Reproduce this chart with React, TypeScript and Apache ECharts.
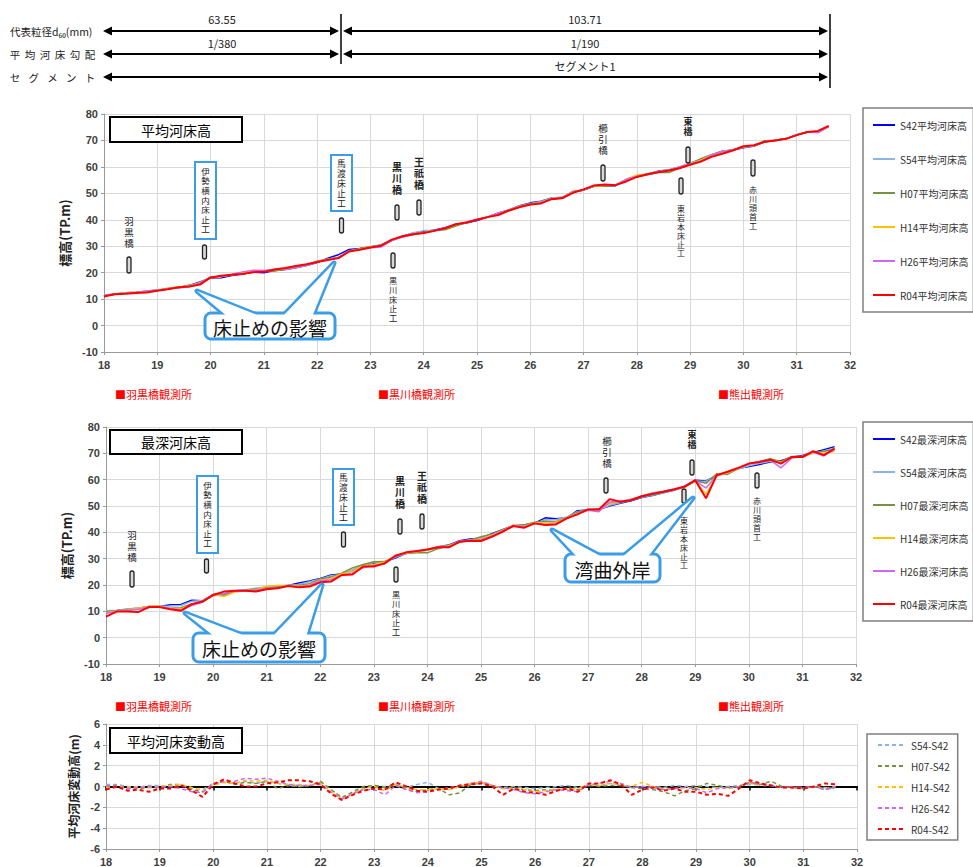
import React, { useEffect, useRef } from "react";
import * as echarts from "echarts";

// ---------- DATA ----------
const KM = [18.0,18.2,18.4,18.6,18.8,19.0,19.2,19.4,19.6,19.8,20.0,20.2,20.4,20.6,20.8,21.0,21.2,21.4,21.6,21.8,22.0,22.2,22.4,22.6,22.8,23.0,23.2,23.4,23.6,23.8,24.0,24.2,24.4,24.6,24.8,25.0,25.2,25.4,25.6,25.8,26.0,26.2,26.4,26.6,26.8,27.0,27.2,27.4,27.6,27.8,28.0,28.2,28.4,28.6,28.8,29.0,29.2,29.4,29.6,29.8,30.0,30.2,30.4,30.6,30.8,31.0,31.2,31.4,31.6];

// 平均河床高
const MEAN_S42 = [11.3,11.8,12.4,12.6,13.0,13.4,13.9,14.4,15.2,16.5,18.0,18.1,18.9,19.5,20.2,20.0,20.8,21.2,21.9,22.7,23.8,25.5,26.8,28.8,29.1,29.7,30.5,32.1,33.8,34.9,35.5,36.1,37.0,38.2,38.8,39.7,41.0,42.6,43.7,45.3,46.4,47.0,48.2,48.4,50.7,51.2,52.7,52.7,52.9,55.3,56.5,57.3,58.4,58.8,60.0,61.3,62.8,64.5,65.9,66.4,67.2,67.9,69.4,70.1,70.7,72.2,73.2,73.3,75.3];
const MEAN_S54 = [11.5,12.0,12.4,12.5,13.1,13.5,13.9,14.5,15.0,16.2,18.3,18.5,19.2,20.0,20.5,20.5,21.1,21.3,21.9,22.8,24.2,25.1,25.8,28.2,28.9,29.8,30.5,32.3,33.7,35.1,35.9,35.9,36.7,38.2,39.0,40.0,41.1,42.5,43.7,45.2,46.2,46.9,48.2,48.5,50.6,51.3,52.8,53.0,53.0,55.2,56.5,57.3,58.3,58.9,60.0,61.4,62.8,64.4,65.9,66.5,67.4,68.1,69.5,70.0,70.7,72.0,73.2,73.2,75.1];
const MEAN_H07 = [11.3,11.9,12.2,12.4,12.9,13.3,14.1,14.6,14.9,16.0,18.2,18.6,19.1,19.9,20.5,20.5,20.6,21.3,21.9,22.8,24.3,25.2,25.7,28.3,29.1,29.8,30.4,32.2,33.5,34.4,35.2,35.9,36.2,37.6,39.0,40.1,41.1,42.4,43.6,45.0,46.0,46.7,47.8,48.3,50.4,51.3,52.7,52.8,53.0,55.2,56.3,57.0,57.9,57.9,59.6,61.1,63.1,64.6,65.8,66.4,67.6,68.1,69.9,70.1,70.6,72.0,73.2,73.0,75.2];
const MEAN_H14 = [11.2,11.8,12.3,12.6,12.9,13.4,14.0,14.6,15.1,16.1,18.1,18.5,19.2,20.1,20.7,20.6,21.1,21.4,22.1,22.8,24.1,25.0,25.6,28.1,28.9,29.7,30.1,32.3,33.7,34.6,35.2,35.9,36.7,38.2,39.1,40.1,41.1,42.4,43.5,45.0,45.9,46.6,48.0,48.1,50.5,51.4,52.8,53.0,53.1,55.3,56.9,57.3,58.2,58.6,59.9,61.2,62.5,64.4,65.7,66.4,67.5,68.0,69.5,70.0,70.6,72.1,73.2,73.1,75.3];
const MEAN_H26 = [11.4,11.8,12.2,12.5,13.0,13.3,13.9,14.2,14.7,15.9,18.3,18.6,19.4,20.3,20.9,20.8,21.3,21.4,22.0,22.8,24.0,24.9,25.6,28.1,28.8,29.4,29.7,32.2,33.5,34.3,35.0,35.8,36.9,38.3,39.1,40.2,41.1,42.5,43.4,44.7,45.7,46.5,47.9,48.0,50.2,51.4,53.0,53.2,53.2,55.2,56.5,57.2,58.1,58.6,59.9,61.1,62.2,64.3,65.8,66.4,67.6,68.1,69.5,70.0,70.6,72.1,73.2,73.0,75.3];
const MEAN_R04 = [11.0,11.8,12.0,12.3,12.5,13.2,13.7,14.5,14.8,15.5,18.2,18.8,19.2,19.5,20.2,20.3,21.2,21.8,22.5,23.2,24.0,24.8,25.5,28.0,28.7,29.5,30.2,32.5,33.8,34.5,35.0,35.8,36.8,38.3,39.0,40.0,41.0,41.8,43.5,44.8,45.8,46.2,47.8,48.2,50.2,51.5,53.0,53.3,53.1,54.5,56.2,57.2,58.0,58.6,59.5,60.8,62.0,63.8,65.0,66.2,67.8,68.2,69.5,70.0,70.6,72.0,73.2,73.6,75.5];

// 最深河床高
const DEEP_S42 = [10.0,10.3,10.8,11.2,11.8,11.8,12.5,12.6,14.2,14.0,16.3,16.5,17.8,18.0,18.5,19.0,19.2,19.8,20.8,21.5,22.5,23.8,24.2,25.5,27.5,28.3,28.8,30.2,32.0,32.8,33.3,34.5,35.2,36.8,37.5,37.8,39.5,41.0,42.5,42.8,43.5,45.5,45.2,45.5,48.2,48.5,48.8,50.0,51.0,52.0,53.2,54.0,55.0,56.0,57.5,59.8,59.5,61.5,62.8,64.2,65.0,65.8,66.7,67.2,68.5,69.2,70.3,71.4,72.5];
const DEEP_S54 = [10.2,10.4,10.9,11.3,11.7,11.9,12.0,12.2,13.8,14.1,16.0,16.3,17.6,18.2,18.8,19.3,19.5,19.9,20.2,21.2,22.3,23.5,24.0,25.8,27.5,28.5,28.8,30.5,32.0,32.6,33.2,34.2,35.0,36.5,37.2,37.8,39.2,40.8,42.3,42.6,43.4,44.8,44.8,45.8,47.8,48.6,48.5,50.3,51.2,52.3,53.3,54.1,55.0,56.0,57.3,59.5,59.3,61.8,62.7,64.0,65.3,66.2,67.0,66.5,68.3,68.8,70.0,70.8,72.0];
const DEEP_H07 = [9.8,10.2,10.6,11.0,11.5,11.6,11.2,11.4,12.8,13.5,16.0,16.2,17.5,17.9,18.5,19.0,19.3,19.8,19.8,20.5,22.2,23.0,24.5,26.5,27.8,28.8,28.9,30.8,32.0,32.2,32.2,33.8,35.0,36.2,37.0,38.3,39.3,40.8,42.3,42.8,43.8,44.2,44.0,45.6,47.6,48.8,48.8,51.0,51.5,52.6,53.5,54.3,55.2,56.2,57.4,59.6,58.6,62.2,62.0,64.2,66.0,66.9,68.0,66.8,68.8,69.0,70.3,70.8,71.5];
const DEEP_H14 = [9.5,10.1,10.5,11.2,11.8,12.0,11.0,10.9,12.5,13.6,16.4,15.6,17.3,17.8,18.2,19.5,19.8,19.8,19.5,20.0,21.8,22.5,24.2,25.2,27.2,27.8,28.6,31.0,32.1,32.6,33.3,34.6,34.8,36.5,37.0,37.5,38.9,40.6,42.8,42.2,43.6,43.5,43.8,45.5,47.2,48.5,48.3,50.8,51.8,52.3,53.8,54.9,55.5,56.4,57.2,59.5,54.5,61.5,62.5,64.3,66.0,66.8,67.5,66.5,68.4,68.5,70.2,70.0,70.8];
const DEEP_H26 = [9.2,10.0,10.3,10.8,11.6,11.8,11.0,10.6,12.2,13.4,16.5,16.8,17.6,17.9,18.0,18.8,19.0,19.7,19.3,19.8,21.6,22.0,23.6,24.6,26.5,27.4,28.0,30.9,32.2,32.7,33.6,34.4,34.5,36.6,36.9,37.2,38.6,40.4,42.6,42.0,43.4,43.0,43.3,45.2,47.0,48.4,47.8,51.5,51.8,52.4,53.8,54.9,55.6,56.5,57.5,59.6,56.8,61.6,62.8,64.4,66.0,66.9,67.4,64.5,68.2,68.8,70.5,69.0,71.5];
const DEEP_R04 = [8.0,9.9,9.9,9.7,11.6,11.6,10.8,10.2,12.7,13.7,16.2,17.5,17.8,17.8,17.5,18.4,18.8,19.6,19.1,19.4,21.0,21.3,23.8,24.0,27.0,27.0,28.2,31.1,32.4,32.9,33.5,34.3,34.3,36.4,36.8,36.7,38.3,40.2,42.4,41.7,43.4,42.8,43.0,45.3,46.8,48.7,48.7,52.6,51.6,52.2,53.7,54.6,55.4,56.3,57.3,59.8,52.9,61.7,63.0,64.5,66.1,66.7,67.6,66.1,68.6,68.6,70.8,69.3,71.8];

// 平均河床変動高 (各年 - S42)
const DIFF_S54 = [0.2,0.2,0.0,-0.1,0.1,0.1,0.0,0.1,-0.2,-0.3,0.3,0.4,0.3,0.5,0.3,0.5,0.3,0.1,0.0,0.1,0.4,-0.4,-1.0,-0.6,-0.2,0.1,0.0,0.2,-0.1,0.2,0.4,-0.2,-0.3,0.0,0.2,0.3,0.1,-0.1,0.0,-0.1,-0.2,-0.1,0.0,0.1,-0.1,0.1,0.1,0.3,0.1,-0.1,0.0,0.0,-0.1,0.1,0.0,0.1,0.0,-0.1,0.0,0.1,0.2,0.2,0.1,-0.1,0.0,-0.2,0.0,-0.1,-0.2];
const DIFF_H07 = [0.0,0.1,-0.2,-0.2,-0.1,-0.1,0.2,0.2,-0.3,-0.5,0.2,0.5,0.2,0.4,0.3,0.5,-0.2,0.1,0.0,0.1,0.5,-0.3,-1.1,-0.5,0.0,0.1,-0.1,0.1,-0.3,-0.5,-0.3,-0.2,-0.8,-0.6,0.2,0.4,0.1,-0.2,-0.1,-0.3,-0.4,-0.3,-0.4,-0.1,-0.3,0.1,0.0,0.1,0.1,-0.1,-0.2,-0.3,-0.5,-0.9,-0.4,-0.2,0.3,0.1,-0.1,0.0,0.4,0.2,0.5,0.0,-0.1,-0.2,0.0,-0.3,-0.1];
const DIFF_H14 = [-0.1,0.0,-0.1,0.0,-0.1,0.0,0.1,0.2,-0.1,-0.4,0.1,0.4,0.3,0.6,0.5,0.6,0.3,0.2,0.2,0.1,0.3,-0.5,-1.2,-0.7,-0.2,0.0,-0.4,0.2,-0.1,-0.3,-0.3,-0.2,-0.3,0.0,0.3,0.4,0.1,-0.2,-0.2,-0.3,-0.5,-0.4,-0.2,-0.3,-0.2,0.2,0.1,0.3,0.2,0.0,0.4,0.0,-0.2,-0.2,-0.1,-0.1,-0.3,-0.1,-0.2,0.0,0.3,0.1,0.1,-0.1,-0.1,-0.1,0.0,-0.2,0.0];
const DIFF_H26 = [0.1,0.0,-0.2,-0.1,0.0,-0.1,0.0,-0.2,-0.5,-0.6,0.3,0.5,0.5,0.8,0.7,0.8,0.5,0.2,0.1,0.1,0.2,-0.6,-1.2,-0.7,-0.3,-0.3,-0.8,0.1,-0.3,-0.6,-0.5,-0.3,-0.1,0.1,0.3,0.5,0.1,-0.1,-0.3,-0.6,-0.7,-0.5,-0.3,-0.4,-0.5,0.2,0.3,0.5,0.3,-0.1,0.0,-0.1,-0.3,-0.2,-0.1,-0.2,-0.6,-0.2,-0.1,0.0,0.4,0.2,0.1,-0.1,-0.1,-0.1,0.0,-0.3,0.0];
const DIFF_R04 = [-0.3,0.0,-0.4,-0.3,-0.5,-0.2,-0.2,0.1,-0.4,-1.0,0.2,0.7,0.3,0.0,0.0,0.3,0.4,0.6,0.6,0.5,0.2,-0.7,-1.3,-0.8,-0.4,-0.2,-0.3,0.4,0.0,-0.4,-0.5,-0.3,-0.2,0.1,0.2,0.3,0.0,-0.8,-0.2,-0.5,-0.6,-0.8,-0.4,-0.2,-0.5,0.3,0.3,0.6,0.2,-0.8,-0.3,-0.1,-0.4,-0.2,-0.5,-0.5,-0.8,-0.7,-0.9,-0.2,0.6,0.3,0.1,-0.1,-0.1,-0.2,0.0,0.3,0.2];

const YEARS = ["S42", "S54", "H07", "H14", "H26", "R04"];
const MEAN_SETS = [MEAN_S42, MEAN_S54, MEAN_H07, MEAN_H14, MEAN_H26, MEAN_R04];
const DEEP_SETS = [DEEP_S42, DEEP_S54, DEEP_H07, DEEP_H14, DEEP_H26, DEEP_R04];
const DIFF_YEARS = ["S54", "H07", "H14", "H26", "R04"];
const DIFF_SETS = [DIFF_S54, DIFF_H07, DIFF_H14, DIFF_H26, DIFF_R04];

const HEADER_ROWS = ["代表粒径d₆₀(mm)", "平均河床勾配", "セグメント"];
const GRAIN = ["63.55", "103.71"];
const SLOPE = ["1/380", "1/190"];
const SEGMENT = "セグメント1";
const STATIONS = ["■羽黒橋観測所", "■黒川橋観測所", "■熊出観測所"];

// ---------- STYLE ----------
const JP = '"Noto Sans CJK JP", "Noto Sans", sans-serif';
const VJP = '"Liberation Sans", "Noto Sans CJK JP", sans-serif';
const NUM = '"Liberation Sans", Arial, sans-serif';
const BLUE = "#3b9de8";
const COLORS: Record<string, string> = {
  S42: "#0000ff",
  S54: "#8db4e2",
  H07: "#76923c",
  H14: "#ffc000",
  H26: "#cc66ff",
  R04: "#ff0000",
};

function txt(text: string, x: number, y: number, o: any = {}) {
  const align = o.align || "left";
  const va = o.va || "middle";
  return {
    type: "text",
    z: 100,
    x,
    y,
    style: {
      text,
      fill: o.fill || "#222",
      fontSize: o.size || 11,
      fontFamily: o.family || JP,
      fontWeight: o.weight || "normal",
      align,
      textAlign: align,
      verticalAlign: va,
      textVerticalAlign: va,
      lineHeight: o.lh,
    },
  };
}

function vtxt(text: string, x: number, top: number, size: number, lh: number, weight = "normal") {
  return txt(text.split("").join("\n"), x, top, { align: "center", va: "top", size, lh, weight, family: VJP });
}

function marker(x: number, y1: number, y2: number) {
  return {
    type: "rect",
    z: 100,
    shape: { x: x - 2, y: y1, width: 4, height: y2 - y1, r: 2 },
    style: { fill: "#d8d8d8", stroke: "#222", lineWidth: 1.3 },
  };
}

function blueBox(x: number, y: number, w: number, h: number) {
  return {
    type: "rect",
    z: 99,
    shape: { x, y, width: w, height: h },
    style: { fill: "#fff", stroke: BLUE, lineWidth: 2 },
  };
}

function line(x1: number, y1: number, x2: number, y2: number, w = 2, color = "#000") {
  return { type: "line", z: 100, shape: { x1, y1, x2, y2 }, style: { stroke: color, lineWidth: w } };
}

function dblArrow(x1: number, x2: number, y: number) {
  const h = 9, v = 4.5;
  return [
    line(x1 + h - 1, y, x2 - h + 1, y, 2),
    { type: "polygon", z: 100, shape: { points: [[x1, y], [x1 + h, y - v], [x1 + h, y + v]] }, style: { fill: "#000" } },
    { type: "polygon", z: 100, shape: { points: [[x2, y], [x2 - h, y - v], [x2 - h, y + v]] }, style: { fill: "#000" } },
  ];
}

function titleBox(x: number, y: number, w: number, h: number, text: string) {
  return [
    { type: "rect", z: 100, shape: { x, y, width: w, height: h }, style: { fill: "#fff", stroke: "#000", lineWidth: 2 } },
    txt(text, x + w / 2, y + h / 2, { align: "center", size: 14, fill: "#000" }),
  ];
}

function callout(box: number[], wedges: number[][], text: string) {
  const [bx, by, bw, bh] = box;
  const polys = wedges.map((w) => [[w[0], w[1]], [w[2], by + 4], [w[3], by + 4]]);
  const els: any[] = [];
  polys.forEach((p) => els.push({ type: "polygon", z: 101, shape: { points: p }, style: { fill: "#fff", stroke: BLUE, lineWidth: 5, lineJoin: "round" } }));
  els.push({ type: "rect", z: 102, shape: { x: bx, y: by, width: bw, height: bh, r: 6 }, style: { fill: "#fff", stroke: BLUE, lineWidth: 3 } });
  polys.forEach((p) => els.push({ type: "polygon", z: 103, shape: { points: p }, style: { fill: "#fff" } }));
  const t = txt(text, bx + bw / 2, by + bh / 2 + 1, { align: "center", size: 19, fill: "#111" });
  (t as any).z = 104;
  els.push(t);
  return els;
}

function buildGraphic() {
  const els: any[] = [];
  // header labels
  els.push(txt(HEADER_ROWS[0], 10, 31, { size: 10.5 }));
  const spread = (s: string, x0: number, x1: number, y: number) => {
    const chars = s.split("");
    const step = (x1 - x0) / (chars.length - 1);
    chars.forEach((c, i) => els.push(txt(c, x0 + i * step, y, { align: "center", size: 10.5 })));
  };
  spread(HEADER_ROWS[1], 15, 90, 54);
  spread(HEADER_ROWS[2], 15, 90, 77);
  // header arrows
  els.push(...dblArrow(103, 339, 31));
  els.push(...dblArrow(343, 828, 31));
  els.push(...dblArrow(103, 339, 54));
  els.push(...dblArrow(343, 828, 54));
  els.push(...dblArrow(103, 828, 77));
  els.push(line(341, 14, 341, 64, 1.5));
  els.push(line(830, 14, 830, 88, 1.5));
  els.push(txt(GRAIN[0], 222, 19, { align: "center", size: 11 }));
  els.push(txt(GRAIN[1], 585, 19, { align: "center", size: 11 }));
  els.push(txt(SLOPE[0], 222, 43, { align: "center", size: 11 }));
  els.push(txt(SLOPE[1], 585, 43, { align: "center", size: 11 }));
  els.push(txt(SEGMENT, 585, 66, { align: "center", size: 11 }));

  // titles
  els.push(...titleBox(110, 117, 132, 25, "平均河床高"));
  els.push(...titleBox(110, 430, 132, 24, "最深河床高"));
  els.push(...titleBox(110, 728, 132, 25, "平均河床変動高"));

  // station labels
  [394, 706].forEach((y) => {
    els.push(txt(STATIONS[0], 115, y, { fill: "#ff0000", size: 11 }));
    els.push(txt(STATIONS[1], 378, y, { fill: "#ff0000", size: 11 }));
    els.push(txt(STATIONS[2], 718, y, { fill: "#ff0000", size: 11 }));
  });

  // annotations: chart 1 and chart 2 (left part)
  const ann = (dy: number, dx: number, p: any) => {
    els.push(vtxt("羽黒橋", p.hag + dx, 216 + dy, 9.5, 10.8));
    els.push(marker(p.hag + dx, 257 + dy, 273 + dy));
    els.push(blueBox(p.ise - 10.5 + dx, 162 + dy, 21, 77));
    els.push(vtxt("伊勢横内床止工", p.ise + dx, 167 + dy, 8.5, 9.6));
    els.push(marker(p.ise - 1 + dx, 245 + dy, 259 + dy));
    els.push(blueBox(p.mad - 10.5 + dx, 155 + dy, 21, 56));
    els.push(vtxt("馬渡床止工", p.mad + dx, 159 + dy, 8.8, 10));
    els.push(marker(p.mad + dx, 218 + dy, 233 + dy));
    els.push(vtxt("黒川橋", p.kur + dx, 162 + dy, 10, 11.2, "bold"));
    els.push(marker(p.kur + dx, 205 + dy, 220 + dy));
    els.push(vtxt("王祇橋", p.ogi + dx, 157 + dy, 10, 11.2, "bold"));
    els.push(marker(p.ogi + dx, 200 + dy, 215 + dy));
    els.push(marker(p.kdo + dx, 253 + dy, 268 + dy));
    els.push(vtxt("黒川床止工", p.kdo + dx, 277 + dy, 8.2, 9.2));
  };
  ann(0, 0, { hag: 129, ise: 205.5, mad: 341.5, kur: 397, ogi: 419, kdo: 393 });
  ann(314, 2, { hag: 130, ise: 205.5, mad: 341.5, kur: 398, ogi: 420, kdo: 394 });

  // right-side annotations chart 1
  els.push(vtxt("櫛引橋", 603, 123, 9.5, 10.8));
  els.push(marker(603, 165, 181));
  els.push(vtxt("東橋", 688, 117, 9, 10.2, "bold"));
  els.push(marker(688, 147, 163));
  els.push(marker(681, 178, 194));
  els.push(vtxt("東岩本床止工", 681, 205, 7.9, 8.9));
  els.push(marker(753, 160, 176));
  els.push(vtxt("赤川頭首工", 753, 186, 8, 9));
  // right-side annotations chart 2
  els.push(vtxt("櫛引橋", 607, 436, 9.5, 10.8));
  els.push(marker(606, 478, 493));
  els.push(vtxt("東橋", 692, 430, 9, 10.2, "bold"));
  els.push(marker(692, 460, 475));
  els.push(marker(684, 489, 503));
  els.push(vtxt("東岩本床止工", 684, 517, 7.9, 8.9));
  els.push(marker(757, 473, 488));
  els.push(vtxt("赤川頭首工", 757, 497, 8, 9));

  // callouts
  els.push(...callout([205, 313, 130, 26], [[197, 291, 228, 262], [334, 263, 282, 312]], "床止めの影響"));
  els.push(...callout([193, 633, 132, 29], [[185, 613, 215, 248], [322, 585, 272, 306]], "床止めの影響"));
  els.push(...callout([565, 554, 95, 28], [[552, 530, 578, 604], [693, 498, 621, 647]], "湾曲外岸"));
  return els;
}

function axisLabelStyle() {
  return { fontSize: 11, fontWeight: "bold", color: "#404040", fontFamily: NUM };
}

function xAxisFor(gridIndex: number) {
  return {
    type: "value",
    gridIndex,
    min: 18,
    max: 32,
    interval: 1,
    axisLine: { show: true, onZero: false, lineStyle: { color: "#999" } },
    axisTick: { show: true, length: 3, lineStyle: { color: "#999" } },
    axisLabel: { ...axisLabelStyle(), margin: 7 },
    splitLine: { show: true, lineStyle: { color: "#d9d9d9" } },
  };
}

function yAxisFor(gridIndex: number, min: number, max: number, interval: number, name: string, gap: number, size: number) {
  return {
    type: "value",
    gridIndex,
    min,
    max,
    interval,
    name,
    nameLocation: "middle",
    nameRotate: 90,
    nameGap: gap,
    nameTextStyle: { fontSize: size, fontWeight: "bold", color: "#222", fontFamily: JP },
    axisLine: { show: true, lineStyle: { color: "#999" } },
    axisTick: { show: true, length: 3, lineStyle: { color: "#999" } },
    axisLabel: { ...axisLabelStyle(), margin: 6 },
    splitLine: { show: true, lineStyle: { color: "#d9d9d9" } },
  };
}

function legendFor(data: string[], top: number, left: number, gap: number, pad: number[], itemWidth: number) {
  return {
    data,
    orient: "vertical",
    left,
    top,
    itemWidth,
    itemHeight: 14,
    itemGap: gap,
    padding: pad,
    borderColor: "#808080",
    borderWidth: 1.5,
    backgroundColor: "#fff",
    itemStyle: { opacity: 0 },
    textStyle: { fontSize: 10, color: "#333", fontFamily: JP, lineHeight: 14 },
  };
}

function buildOption() {
  const series: any[] = [];
  YEARS.forEach((y, i) => {
    series.push({
      name: y + "平均河床高",
      type: "line",
      xAxisIndex: 0,
      yAxisIndex: 0,
      symbol: "none",
      data: KM.map((k, j) => [k, MEAN_SETS[i][j]]),
      lineStyle: { color: COLORS[y], width: y === "R04" ? 2 : 1.5 },
      itemStyle: { color: COLORS[y] },
      z: 2 + i,
    });
  });
  YEARS.forEach((y, i) => {
    series.push({
      name: y + "最深河床高",
      type: "line",
      xAxisIndex: 1,
      yAxisIndex: 1,
      symbol: "none",
      data: KM.map((k, j) => [k, DEEP_SETS[i][j]]),
      lineStyle: { color: COLORS[y], width: y === "R04" ? 2 : 1.5 },
      itemStyle: { color: COLORS[y] },
      z: 2 + i,
    });
  });
  DIFF_YEARS.forEach((y, i) => {
    series.push({
      name: y + "-S42",
      type: "line",
      xAxisIndex: 2,
      yAxisIndex: 2,
      symbol: "none",
      data: KM.map((k, j) => [k, DIFF_SETS[i][j]]),
      lineStyle: { color: COLORS[y], width: y === "R04" ? 2 : 1.5, type: [4, 3] },
      itemStyle: { color: COLORS[y] },
      z: 3 + i,
    });
  });

  return {
    animation: false,
    backgroundColor: "#fff",
    textStyle: { fontFamily: JP },
    grid: [
      { left: 104, top: 114, width: 746, height: 238 },
      { left: 106, top: 427, width: 750, height: 237 },
      { left: 106, top: 724, width: 751, height: 125 },
    ],
    xAxis: [
      xAxisFor(0),
      xAxisFor(1),
      xAxisFor(2),
      {
        type: "value",
        gridIndex: 2,
        min: 18,
        max: 32,
        interval: 1,
        position: "bottom",
        axisLine: { show: true, onZero: true, lineStyle: { color: "#000", width: 2 } },
        axisTick: { show: true, length: 4, lineStyle: { color: "#000", width: 1.5 } },
        axisLabel: { show: false },
        splitLine: { show: false },
      },
    ],
    yAxis: [
      yAxisFor(0, -10, 80, 10, "標高(TP.m)", 20, 13),
      yAxisFor(1, -10, 80, 10, "標高(TP.m)", 22, 13),
      yAxisFor(2, -6, 6, 2, "平均河床変動高(m)", 14, 12),
    ],
    legend: [
      legendFor(YEARS.map((y) => y + "平均河床高"), 108, 863, 20, [10, 5, 10, 9], 22),
      legendFor(YEARS.map((y) => y + "最深河床高"), 422, 863, 19, [10, 5, 10, 9], 22),
      legendFor(DIFF_YEARS.map((y) => y + "-S42"), 734, 867, 7, [4, 8, 4, 10], 28),
    ],
    series,
    graphic: { elements: buildGraphic() },
  };
}

export default function App() {
  const ref = useRef<HTMLDivElement>(null);
  useEffect(() => {
    if (!ref.current) return;
    const chart = echarts.init(ref.current, null, { renderer: "svg" });
    chart.setOption(buildOption() as any);
    return () => chart.dispose();
  }, []);
  return (
    <div
      ref={ref}
      style={{ position: "absolute", left: 0, top: 0, width: 973, height: 867, background: "#fff" }}
    />
  );
}
